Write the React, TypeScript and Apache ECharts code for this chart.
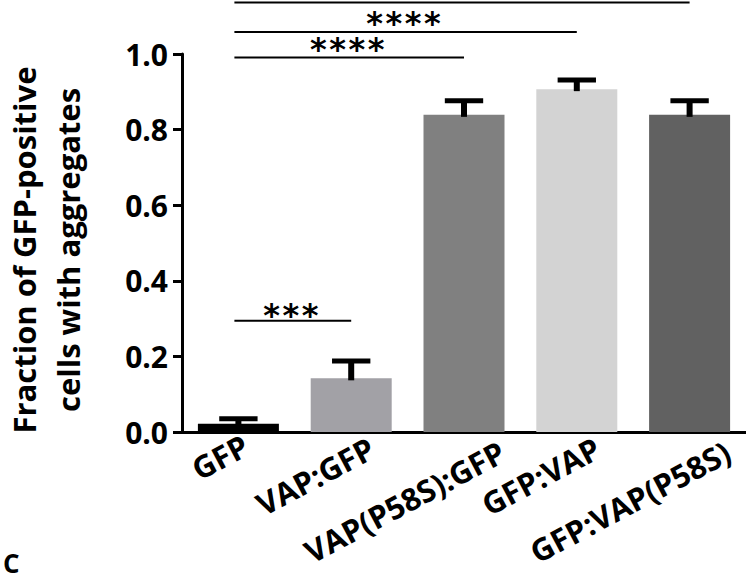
import React, { useEffect, useRef } from "react";
import * as echarts from "echarts";

const categories = ["GFP", "VAP:GFP", "VAP(P58S):GFP", "GFP:VAP", "GFP:VAP(P58S)"];
const means = [0.022, 0.142, 0.839, 0.907, 0.839];
const errors = [0.013, 0.046, 0.037, 0.024, 0.037];
const barColors = ["#000000", "#a2a1a6", "#808080", "#d3d3d3", "#616161"];

const yTicks = [0, 0.2, 0.4, 0.6, 0.8, 1.0];

// significance comparisons
const compStart = [0, 0, 0, 0];
const compEnd = [4, 3, 2, 1];
const compLineY = [1.136, 1.058, 0.991, 0.294];
const compLabelY = [1.2, 1.083, 1.012, 0.3095];
const compLabels = ["", "****", "****", "***"];

const FONT = "Open Sans";
const XFONT_SIZE = 31;
const XROT = (28 * Math.PI) / 180;

function measure(text: string): number {
  const c = document.createElement("canvas").getContext("2d");
  if (!c) return text.length * XFONT_SIZE * 0.6;
  c.font = `bold ${XFONT_SIZE}px "${FONT}"`;
  return c.measureText(text).width;
}

export default function App() {
  const ref = useRef<HTMLDivElement>(null);
  useEffect(() => {
    if (!ref.current) return;
    const chart = echarts.init(ref.current, null, { renderer: "svg" });
    const widths = categories.map(measure);
    chart.setOption({
      animation: false,
      backgroundColor: "#ffffff",
      grid: { left: 182, top: 54, width: 566, bottom: 149, containLabel: false },
      xAxis: {
        type: "category",
        data: categories,
        axisLine: { lineStyle: { color: "#000", width: 3 } },
        axisTick: { alignWithLabel: true, length: 10, lineStyle: { color: "#000", width: 3 } },
        axisLabel: { show: false },
      },
      yAxis: {
        type: "value",
        min: yTicks[0],
        max: yTicks[yTicks.length - 1],
        interval: 0.2,
        splitLine: { show: false },
        axisLine: { show: true, lineStyle: { color: "#000", width: 3 } },
        axisTick: { show: true, length: 9, lineStyle: { color: "#000", width: 3 } },
        axisLabel: {
          margin: 14,
          color: "#000",
          fontFamily: FONT,
          fontWeight: "bold",
          fontSize: 30,
          formatter: (v: number) => v.toFixed(1),
        },
      },
      graphic: [
        {
          type: "text",
          x: 46,
          y: 250,
          rotation: Math.PI / 2,
          style: {
            text: "Fraction of GFP-positive\ncells with aggregates",
            fontFamily: FONT,
            fontWeight: "bold",
            fontSize: 31,
            lineHeight: 44,
            fill: "#000",
            textAlign: "center",
            textVerticalAlign: "middle",
          },
        },
        {
          type: "text",
          x: 3,
          y: 548,
          style: {
            text: "C",
            fontFamily: FONT,
            fontWeight: "bold",
            fontSize: 26,
            lineHeight: 30,
            fill: "#000",
            textAlign: "left",
            textVerticalAlign: "top",
          },
        },
      ],
      series: [
        {
          type: "bar",
          barWidth: 81,
          data: means.map((m, i) => ({ value: m, itemStyle: { color: barColors[i] } })),
          z: 2,
        },
        {
          type: "custom",
          z: 3,
          data: means.map((m, i) => [i, m, m + errors[i]]),
          encode: { x: 0, y: [1, 2] },
          renderItem: (params: any, api: any) => {
            const i = api.value(0);
            const base = api.coord([i, api.value(1)]);
            const top = api.coord([i, api.value(2)]);
            const half = api.size([1, 0])[0] * 0.17;
            return {
              type: "group",
              children: [
                {
                  type: "line",
                  shape: { x1: base[0], y1: base[1] + 2, x2: top[0], y2: top[1] },
                  style: { stroke: "#000", lineWidth: 6 },
                },
                {
                  type: "line",
                  shape: { x1: top[0] - half, y1: top[1], x2: top[0] + half, y2: top[1] },
                  style: { stroke: "#000", lineWidth: 5 },
                },
              ],
            };
          },
        },
        {
          type: "custom",
          z: 4,
          clip: false,
          silent: true,
          data: categories.map((c, i) => [i, 0]),
          encode: { x: 0, y: 1 },
          renderItem: (params: any, api: any) => {
            const idx = params.dataIndex;
            const p = api.coord([api.value(0), 0]);
            const w = widths[idx];
            return {
              type: "text",
              x: p[0] + 0.19 * w - 11,
              y: p[1] - 5 + 0.04 * w,
              rotation: XROT,
              style: {
                text: categories[idx],
                fontFamily: FONT,
                fontWeight: "bold",
                fontSize: XFONT_SIZE,
                fill: "#000",
                textAlign: "right",
                textVerticalAlign: "top",
              },
            };
          },
        },
        {
          type: "custom",
          z: 4,
          clip: false,
          silent: true,
          data: compStart.map((s, i) => [s, compEnd[i], compLineY[i], compLabelY[i]]),
          encode: { x: [0, 1], y: 2 },
          renderItem: (params: any, api: any) => {
            const idx = params.dataIndex;
            const p1 = api.coord([api.value(0), api.value(2)]);
            const p2 = api.coord([api.value(1), api.value(2)]);
            const ly = api.coord([api.value(0), api.value(3)])[1];
            const children: any[] = [
              {
                type: "line",
                shape: { x1: p1[0] - 4, y1: p1[1], x2: p2[0], y2: p2[1] },
                style: { stroke: "#000", lineWidth: 2 },
              },
            ];
            if (compLabels[idx]) {
              children.push({
                type: "text",
                x: (p1[0] + p2[0]) / 2 - 4,
                y: ly,
                style: {
                  text: compLabels[idx],
                  fontFamily: "DejaVu Sans Mono",
                  fontWeight: "bold",
                  fontSize: 32,
                  lineHeight: 32,
                  fill: "#000",
                  textAlign: "center",
                  textVerticalAlign: "middle",
                },
              });
            }
            return { type: "group", children };
          },
        },
      ],
    });
    return () => chart.dispose();
  }, []);
  return <div ref={ref} style={{ width: 746, height: 581, position: "absolute", left: 0, top: 0 }} />;
}
